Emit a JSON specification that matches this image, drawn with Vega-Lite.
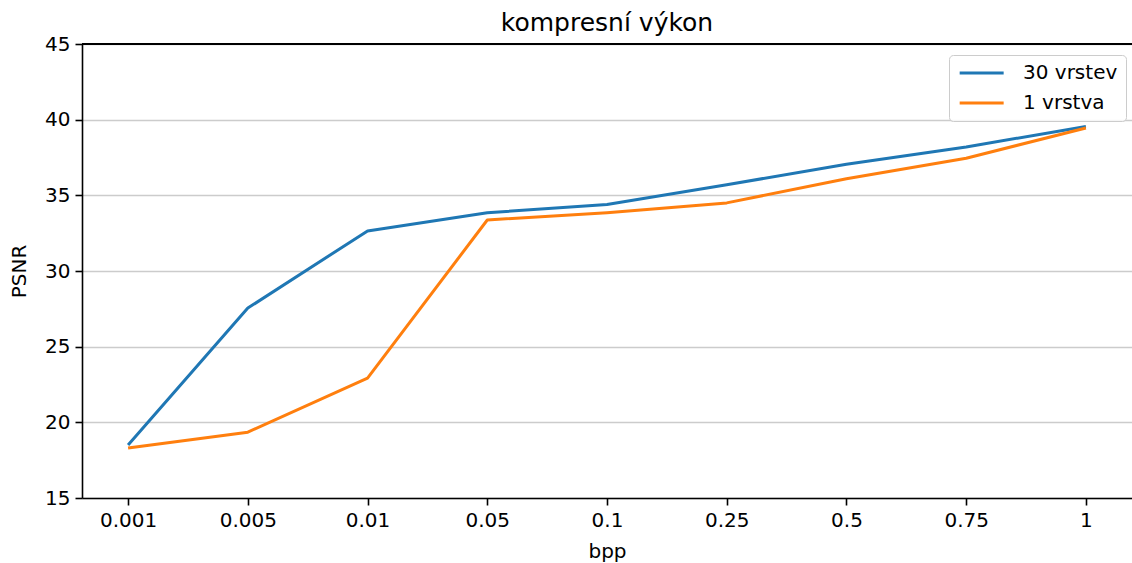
{
  "$schema": "https://vega.github.io/schema/vega-lite/v6.json",
  "autosize": "none",
  "width": 1050,
  "height": 454,
  "padding": {"left": 82, "top": 44, "right": 0, "bottom": 65},
  "background": "white",
  "title": {
    "text": "kompresní výkon",
    "fontSize": 25,
    "font": "DejaVu Sans",
    "fontWeight": "normal",
    "color": "#000000",
    "anchor": "middle",
    "offset": -2
  },
  "data": {
    "values": [
      {"bpp": "0.001", "series": "30 vrstev", "psnr": 18.5},
      {"bpp": "0.005", "series": "30 vrstev", "psnr": 27.55},
      {"bpp": "0.01", "series": "30 vrstev", "psnr": 32.65},
      {"bpp": "0.05", "series": "30 vrstev", "psnr": 33.85},
      {"bpp": "0.1", "series": "30 vrstev", "psnr": 34.4},
      {"bpp": "0.25", "series": "30 vrstev", "psnr": 35.7},
      {"bpp": "0.5", "series": "30 vrstev", "psnr": 37.05},
      {"bpp": "0.75", "series": "30 vrstev", "psnr": 38.2},
      {"bpp": "1", "series": "30 vrstev", "psnr": 39.55},
      {"bpp": "0.001", "series": "1 vrstva", "psnr": 18.3},
      {"bpp": "0.005", "series": "1 vrstva", "psnr": 19.35},
      {"bpp": "0.01", "series": "1 vrstva", "psnr": 22.92},
      {"bpp": "0.05", "series": "1 vrstva", "psnr": 33.37},
      {"bpp": "0.1", "series": "1 vrstva", "psnr": 33.85},
      {"bpp": "0.25", "series": "1 vrstva", "psnr": 34.5},
      {"bpp": "0.5", "series": "1 vrstva", "psnr": 36.1},
      {"bpp": "0.75", "series": "1 vrstva", "psnr": 37.45},
      {"bpp": "1", "series": "1 vrstva", "psnr": 39.45}
    ]
  },
  "layer": [
    {
      "mark": {"type": "rule", "color": "#000000", "strokeWidth": 1.6},
      "encoding": {
        "y": {"datum": 45, "type": "quantitative"}
      }
    },
    {
      "mark": {"type": "line", "strokeWidth": 3, "strokeJoin": "round"},
      "encoding": {
        "x": {
          "field": "bpp",
          "type": "ordinal",
          "sort": ["0.001", "0.005", "0.01", "0.05", "0.1", "0.25", "0.5", "0.75", "1"],
          "scale": {"type": "point", "padding": 0.385},
          "axis": {
            "title": "bpp",
            "labelAngle": 0,
            "grid": false,
            "titlePadding": 11
          }
        },
        "y": {
          "field": "psnr",
          "type": "quantitative",
          "scale": {"domain": [15, 45], "nice": false, "zero": false},
          "axis": {
            "title": "PSNR",
            "values": [15, 20, 25, 30, 35, 40, 45],
            "grid": true,
            "titlePadding": 15
          }
        },
        "color": {
          "field": "series",
          "type": "nominal",
          "scale": {"domain": ["30 vrstev", "1 vrstva"], "range": ["#1f77b4", "#ff7f0e"]},
          "legend": {
            "title": null,
            "orient": "none",
            "legendX": 867,
            "legendY": 11,
            "symbolType": "M-1,0H5",
            "symbolSize": 215,
            "symbolStrokeWidth": 3,
            "labelFontSize": 20,
            "labelFont": "DejaVu Sans",
            "labelColor": "#000000",
            "labelOffset": 46,
            "rowPadding": 10,
            "padding": 8,
            "strokeColor": "#cccccc",
            "fillColor": "rgba(255,255,255,0.8)",
            "cornerRadius": 4
          }
        }
      }
    }
  ],
  "config": {
    "view": {"stroke": null},
    "font": "DejaVu Sans",
    "axis": {
      "labelFont": "DejaVu Sans",
      "titleFont": "DejaVu Sans",
      "labelFontSize": 20,
      "titleFontSize": 20,
      "titleFontWeight": "normal",
      "labelColor": "#000000",
      "titleColor": "#000000",
      "tickColor": "#000000",
      "domainColor": "#000000",
      "tickSize": 7,
      "tickWidth": 1.6,
      "domainWidth": 1.6,
      "labelPadding": 5,
      "gridColor": "#cccccc",
      "gridWidth": 1.5
    }
  }
}
